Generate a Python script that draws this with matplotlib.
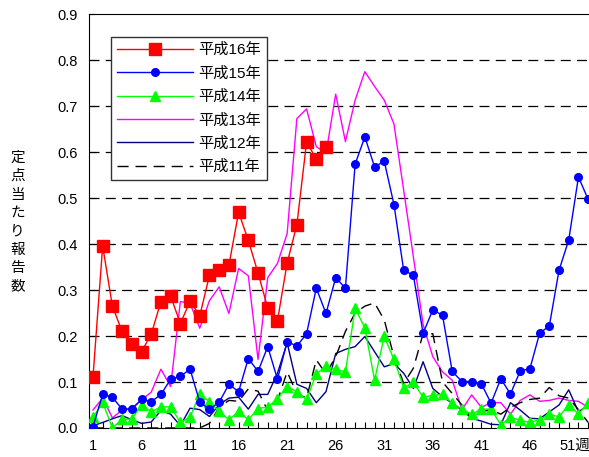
import numpy as np
import matplotlib
matplotlib.use('Agg')
from matplotlib import pyplot as plt
from matplotlib.ticker import MultipleLocator
from matplotlib.transforms import ScaledTranslation

plt.rcParams['font.family'] = ['Liberation Sans', 'Noto Sans CJK JP', 'DejaVu Sans']

# weekly values (定点当たり報告数)
h16 = [0.110, 0.396, 0.265, 0.210, 0.183, 0.166, 0.204, 0.275, 0.287, 0.227,
       0.276, 0.244, 0.332, 0.343, 0.354, 0.469, 0.408, 0.337, 0.261, 0.233,
       0.359, 0.442, 0.622, 0.585, 0.611]
h15 = [0.003, 0.073, 0.067, 0.041, 0.041, 0.062, 0.057, 0.073, 0.106, 0.112,
       0.128, 0.056, 0.041, 0.056, 0.095, 0.079, 0.151, 0.123, 0.177, 0.106,
       0.188, 0.178, 0.205, 0.304, 0.249, 0.327, 0.304, 0.574, 0.633, 0.568,
       0.580, 0.486, 0.343, 0.332, 0.206, 0.257, 0.245, 0.123, 0.101, 0.101,
       0.096, 0.054, 0.107, 0.074, 0.124, 0.129, 0.206, 0.222, 0.343, 0.409,
       0.546, 0.497]
h14 = [0.023, 0.056, 0.000, 0.019, 0.019, 0.051, 0.035, 0.046, 0.046, 0.012,
       0.024, 0.074, 0.057, 0.036, 0.018, 0.036, 0.018, 0.042, 0.046, 0.063,
       0.090, 0.079, 0.062, 0.118, 0.134, 0.128, 0.122, 0.260, 0.218, 0.104,
       0.199, 0.149, 0.088, 0.099, 0.067, 0.071, 0.073, 0.054, 0.041, 0.030,
       0.041, 0.041, 0.007, 0.023, 0.017, 0.012, 0.018, 0.030, 0.024, 0.051,
       0.030, 0.055]
h13 = [0.039, 0.065, 0.022, 0.039, 0.043, 0.061, 0.078, 0.128, 0.090, 0.275,
       0.271, 0.217, 0.277, 0.307, 0.249, 0.347, 0.331, 0.149, 0.327, 0.358,
       0.423, 0.673, 0.694, 0.612, 0.597, 0.726, 0.623, 0.713, 0.775, 0.743,
       0.713, 0.661, 0.517, 0.372, 0.225, 0.155, 0.122, 0.104, 0.040, 0.072,
       0.045, 0.055, 0.055, 0.030, 0.060, 0.072, 0.058, 0.060, 0.065, 0.060,
       0.058, 0.045]
h12 = [0.005, 0.012, 0.020, 0.027, 0.018, 0.010, 0.013, 0.038, 0.030, 0.005,
       0.043, 0.040, 0.025, 0.051, 0.065, 0.067, 0.041, 0.073, 0.073, 0.119,
       0.185, 0.095, 0.086, 0.055, 0.079, 0.162, 0.171, 0.177, 0.199, 0.166,
       0.133, 0.140, 0.119, 0.086, 0.144, 0.086, 0.068, 0.054, 0.039, 0.021,
       0.015, 0.008, 0.007, 0.055, 0.039, 0.021, 0.020, 0.035, 0.050, 0.083,
       0.035, 0.050]
h11 = [0.000, 0.000, 0.000, 0.000, 0.000, 0.000, 0.000, 0.000, 0.000, 0.000,
       0.000, 0.000, 0.010, 0.045, 0.060, 0.058, 0.085, 0.080, 0.038, 0.060,
       0.122, 0.075, 0.065, 0.148, 0.118, 0.155, 0.210, 0.250, 0.265, 0.272,
       0.235, 0.155, 0.097, 0.130, 0.205, 0.205, 0.100, 0.075, 0.050, 0.020,
       0.035, 0.040, 0.030, 0.045, 0.055, 0.062, 0.065, 0.088, 0.070, 0.065,
       0.040, 0.012]

xticks = [1, 6, 11, 16, 21, 26, 31, 36, 41, 46, 51]
xtick_labels = ['1', '6', '11', '16', '21', '26', '31', '36', '41', '46', '51週']

fig = plt.figure(figsize=(5.89, 4.57), dpi=100)
ax = fig.add_axes([0.151, 0.0635, 0.855, 0.9055])

def weeks(vals):
    return np.arange(1, len(vals) + 1)

ax.plot(weeks(h16), h16, color='#ff0000', lw=1, marker='s', ms=8, label='平成16年', zorder=6)
ax.plot(weeks(h15), h15, color='#0000ff', lw=1, marker='o', ms=5.5, label='平成15年', zorder=5)
ax.plot(weeks(h14), h14, color='#00ff00', lw=1, marker='^', ms=6.5, label='平成14年', zorder=4)
ax.plot(weeks(h13), h13, color='#ff00ff', lw=1, label='平成13年', zorder=3)
ax.plot(weeks(h12), h12, color='#000080', lw=1, label='平成12年', zorder=3)
ax.plot(weeks(h11), h11, color='black', lw=1, ls=(0, (8, 5)), label='平成11年', zorder=3)

ax.set_xlim(0.585, 52.45)
ax.set_ylim(0, 0.9)
ax.set_yticks(np.arange(0, 0.91, 0.1))
ax.set_yticklabels([f'{v:.1f}' for v in np.arange(0, 0.91, 0.1)], fontsize=10.5)
ax.set_xticks(xticks)
ax.set_xticklabels(xtick_labels, fontsize=10.5)
ax.xaxis.set_minor_locator(MultipleLocator(1))
ax.tick_params(axis='both', which='both', direction='in', length=4, width=0.8)
ax.tick_params(axis='x', pad=8)
ax.tick_params(axis='y', pad=8)
ax.spines['right'].set_visible(False)

# keep "51週" inside the picture
last = ax.get_xticklabels()[-1]
last.set_transform(last.get_transform() + ScaledTranslation(-4 / 100, 0, fig.dpi_scale_trans))

for y in np.arange(0.1, 0.85, 0.1):
    ax.axhline(y, color='black', lw=0.9, ls=(0, (8, 5)), zorder=1)

fig.text(0.03, 0.514, '\n'.join('定点当たり報告数'), fontsize=10.5, ha='center', va='center',
         linespacing=1.4, family=['Noto Sans CJK JP'])

leg = ax.legend(loc='upper left', bbox_to_anchor=(0.043, 0.945), fontsize=11,
                handlelength=5.0, frameon=True, fancybox=False, edgecolor='#333333',
                borderpad=0.4, labelspacing=0.6, handletextpad=0.35, borderaxespad=0)
leg.get_frame().set_linewidth(1)
leg.get_frame().set_alpha(1)
leg.set_zorder(10)

fig.savefig('out.png', dpi=100)
